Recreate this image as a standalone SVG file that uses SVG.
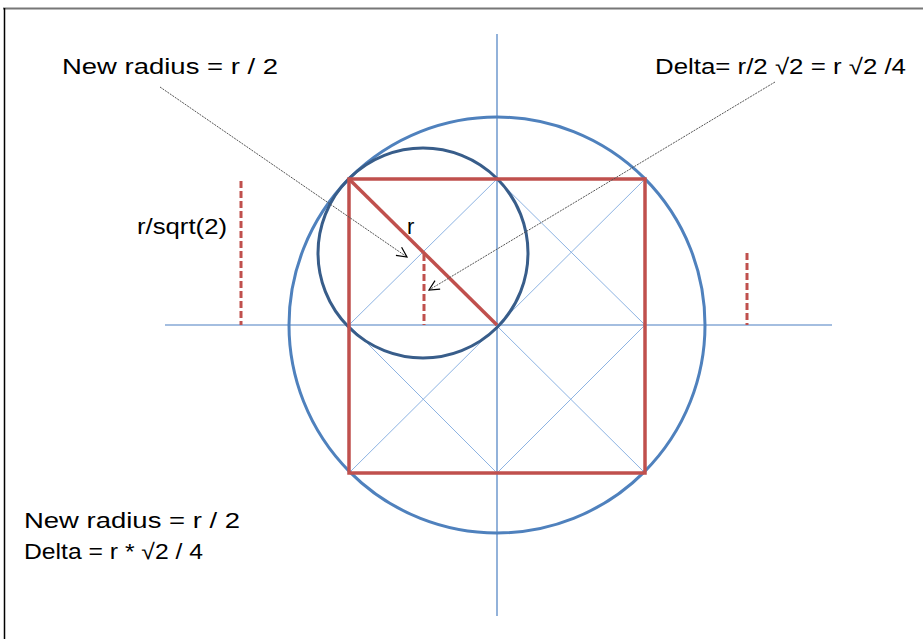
<svg xmlns="http://www.w3.org/2000/svg" width="924" height="639" viewBox="0 0 924 639">
<defs>
<style>
.t{font-family:"Liberation Sans Narrow","Liberation Sans",Arial,sans-serif;font-size:22px;fill:#000}
.thin{stroke:#8db3e2;stroke-width:1;fill:none}
.axis{stroke:#4a7fc1;stroke-width:1.2;fill:none}
.red{stroke:#c0504d;stroke-width:3.5;fill:none}
.dash{stroke:#c0504d;stroke-width:3;fill:none;stroke-dasharray:7 3}
.lead{stroke:#555;stroke-width:1;fill:none;stroke-dasharray:2 1}
</style>
<marker id="ah" viewBox="0 0 12 12" refX="11" refY="6" markerWidth="12" markerHeight="12" markerUnits="userSpaceOnUse" orient="auto">
<path d="M1,1 L11,6 L1,11" fill="none" stroke="#000" stroke-width="1.2"/>
</marker>
</defs>
<rect width="924" height="639" fill="#fff"/>
<line x1="3" y1="8.5" x2="923" y2="8.5" stroke="#777" stroke-width="2"/>
<line x1="4.5" y1="8" x2="4.5" y2="639" stroke="#000" stroke-width="1.5"/>
<g id="axes">
<line class="axis" x1="165" y1="325" x2="832" y2="325"/>
<line class="axis" x1="497" y1="34" x2="497" y2="616"/>
</g>
<g id="guides">
<line class="thin" x1="349" y1="179" x2="645" y2="473"/>
<line class="thin" x1="645" y1="179" x2="349" y2="473"/>
<polygon class="thin" points="497,179 645,325 497,473 349,325"/>
</g>
<g id="big-circle"><circle cx="497" cy="325" r="208" fill="none" stroke="#4f81bd" stroke-width="3"/></g>
<g id="small-circle"><circle cx="423" cy="253" r="105" fill="none" stroke="#385d8a" stroke-width="3"/></g>
<g id="square">
<rect class="red" x="349" y="179" width="296" height="294"/>
<line class="red" x1="349" y1="179" x2="497" y2="325"/>
</g>
<g id="dashes">
<line class="dash" x1="241" y1="181" x2="241" y2="325"/>
<line class="dash" x1="424" y1="254" x2="424" y2="325"/>
<line class="dash" x1="747" y1="253" x2="747" y2="325"/>
</g>
<g id="connectors">
<line class="lead" x1="160" y1="87" x2="407" y2="257" marker-end="url(#ah)"/>
<line class="lead" x1="775" y1="82" x2="429" y2="290" marker-end="url(#ah)"/>
</g>
<g id="labels">
<text class="t" x="62" y="74" textLength="216" lengthAdjust="spacingAndGlyphs">New radius = r / 2</text>
<text class="t" x="655" y="74" textLength="251" lengthAdjust="spacingAndGlyphs">Delta= r/2 √2 = r √2 /4</text>
<text class="t" x="137" y="234" textLength="90" lengthAdjust="spacingAndGlyphs">r/sqrt(2)</text>
<text class="t" x="407" y="234">r</text>
<text class="t" x="24" y="528" textLength="216" lengthAdjust="spacingAndGlyphs">New radius = r / 2</text>
<text class="t" x="24" y="559" textLength="179" lengthAdjust="spacingAndGlyphs">Delta = r * √2 / 4</text>
</g>
</svg>
